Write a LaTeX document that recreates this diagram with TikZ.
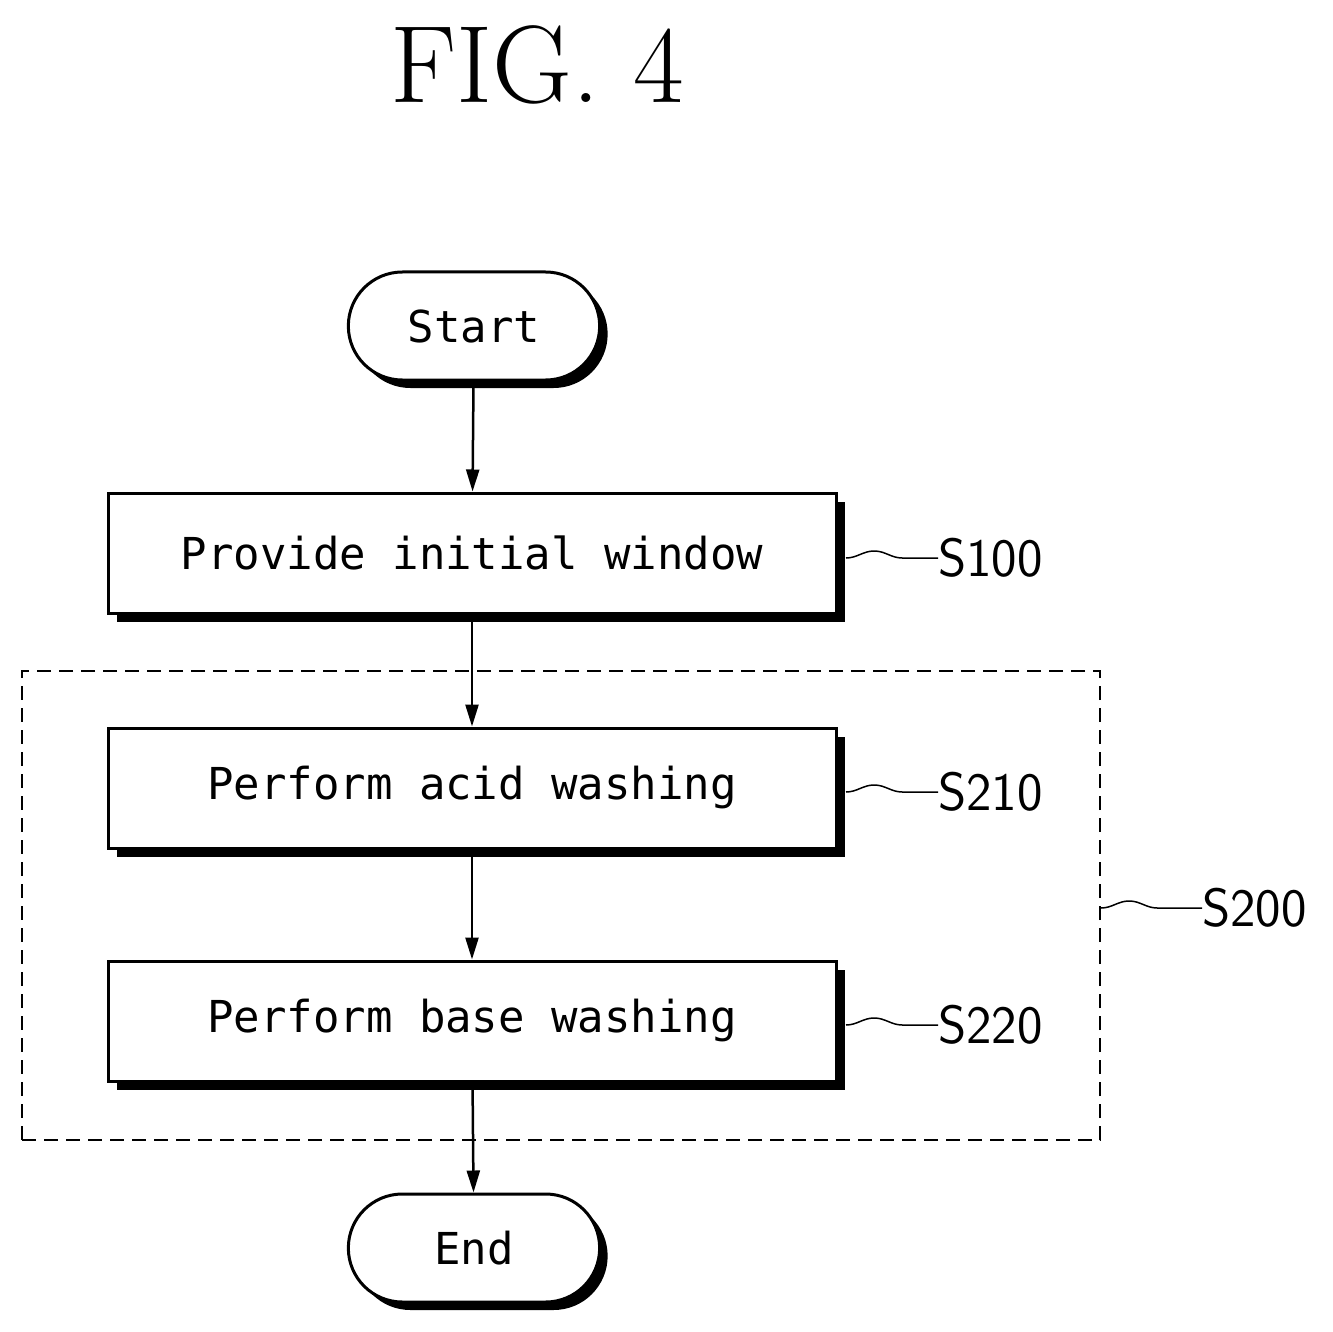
\documentclass[tikz,border=0pt]{standalone}
\usepackage{fontspec}
\setmonofont{DejaVu Sans Mono}
\usetikzlibrary{shapes.misc,shadows,decorations.pathmorphing,arrows.meta}
\begin{document}
\begin{tikzpicture}[x=1pt,y=-1pt,
  box/.style={draw,line width=3pt,fill=white,minimum width=728pt,minimum height=120pt,
    drop shadow={shadow xshift=9pt,shadow yshift=-9pt,fill=black,opacity=1},
    font=\fontsize{44}{50}\ttfamily},
  term/.style={draw,line width=3pt,fill=white,rounded rectangle,minimum width=258pt,minimum height=108pt,
    drop shadow={shadow xshift=8pt,shadow yshift=-8pt,fill=black,opacity=1},
    font=\fontsize{44}{50}\ttfamily},
  arr/.style={line width=2.5pt,-{Triangle[length=22pt,width=13pt]}},
  wav/.style={line width=1.5pt,decorate,decoration={snake,segment length=90pt,amplitude=7pt}},
  lab/.style={font=\fontsize{54}{60}\sffamily,anchor=west,inner sep=0pt}]
\useasboundingbox (0,0) rectangle (1333,1332);
\node[font=\fontsize{110}{120}\rmfamily] (title) at (537,65) {FIG. 4};
\node[term] (start) at (474,326) {Start};
\node[box] (s100) at (472,553) {Provide initial window};
\node[box] (s210) at (472,788) {Perform acid washing};
\node[box] (s220) at (472,1021) {Perform base washing};
\node[term] (end) at (474,1248) {End};
\node[draw,line width=1.5pt,dash pattern=on 14pt off 8pt,minimum width=1078pt,minimum height=469pt,inner sep=0pt] (s200) at (561,905.5) {};
\draw[arr] (start) -- (s100);
\draw[arr] (s100) -- (s210);
\draw[arr] (s210) -- (s220);
\draw[arr] (s220) -- (end);
\node[lab] (l100) at (938,558) {S100};
\node[lab] (l210) at (938,792) {S210};
\node[lab] (l220) at (938,1025) {S220};
\node[lab] (l200) at (1202,908) {S200};
\coordinate (w100) at (846,558);
\coordinate (w210) at (846,792);
\coordinate (w220) at (846,1025);
\coordinate (w200) at (1101,908);
\draw[wav] (w100) -- (l100.west);
\draw[wav] (w210) -- (l210.west);
\draw[wav] (w220) -- (l220.west);
\draw[wav] (w200) -- (l200.west);
\end{tikzpicture}
\end{document}
